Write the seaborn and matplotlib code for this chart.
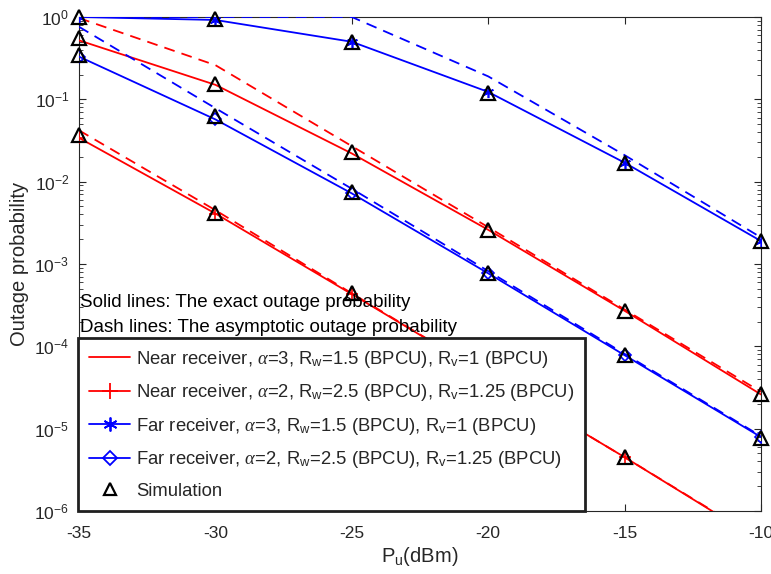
import numpy as np
import pandas as pd
import matplotlib
matplotlib.use('Agg')
import matplotlib.pyplot as plt
import seaborn as sns
from matplotlib.lines import Line2D

# =========================
# Data
# =========================
pu_dbm = [-35, -30, -25, -20, -15, -10]

# exact outage probability
near_a3_exact = [0.52, 0.150, 0.022, 0.0026, 2.7e-4, 2.6e-5]
near_a2_exact = [0.034, 0.0041, 4.3e-4, 4.4e-5, 4.5e-6, 4.3e-7]
far_a3_exact = [1.0, 0.92, 0.50, 0.123, 0.017, 0.0019]
far_a2_exact = [0.33, 0.057, 0.0072, 7.7e-4, 7.8e-5, 7.9e-6]

# asymptotic outage probability
near_a3_asym = [0.97, 0.26, 0.027, 0.0028, 2.8e-4, 2.8e-5]
near_a2_asym = [0.042, 0.0045, 4.4e-4, 4.4e-5, 4.5e-6, 4.4e-7]
far_a3_asym = [1.0, 1.0, 1.0, 0.19, 0.021, 0.0021]
far_a2_asym = [0.76, 0.078, 0.0082, 8.2e-4, 8.1e-5, 8.1e-6]

# simulation points
sim_x = [-35, -30, -25, -20, -15, -10,
         -35, -30, -25, -20, -15,
         -35, -30, -25, -20, -15, -10,
         -35, -30, -25, -20, -15, -10]
sim_y = [0.55, 0.155, 0.023, 0.0026, 2.7e-4, 2.6e-5,
         0.037, 0.0042, 4.4e-4, 4.5e-5, 4.5e-6,
         1.0, 0.95, 0.50, 0.12, 0.017, 0.0019,
         0.35, 0.062, 0.0075, 7.7e-4, 7.8e-5, 7.6e-6]

labels = [
    r'Near receiver, $\alpha$=3, R$_{\rm w}$=1.5 (BPCU), R$_{\rm v}$=1 (BPCU)',
    r'Near receiver, $\alpha$=2, R$_{\rm w}$=2.5 (BPCU), R$_{\rm v}$=1.25 (BPCU)',
    r'Far receiver, $\alpha$=3, R$_{\rm w}$=1.5 (BPCU), R$_{\rm v}$=1 (BPCU)',
    r'Far receiver, $\alpha$=2, R$_{\rm w}$=2.5 (BPCU), R$_{\rm v}$=1.25 (BPCU)',
    'Simulation',
]

# =========================
# Style
# =========================
sns.set_style('ticks')
plt.rcParams['font.family'] = ['Liberation Sans', 'DejaVu Sans']
plt.rcParams['mathtext.fontset'] = 'custom'
plt.rcParams['mathtext.rm'] = 'Liberation Sans'
plt.rcParams['mathtext.it'] = 'Liberation Serif:italic'
plt.rcParams['axes.unicode_minus'] = False
plt.rcParams['xtick.direction'] = 'in'
plt.rcParams['ytick.direction'] = 'in'

axis_grey = '#262626'
asterisk = (6, 2, 0)

fig = plt.figure(figsize=(7.71, 5.74), dpi=100)
ax = fig.add_axes([0.1025, 0.1098, 0.8845, 0.8606])
ax.set_yscale('log')

styles = [
    ('red', None, 'none'),
    ('red', '+', 'red'),
    ('blue', asterisk, 'blue'),
    ('blue', 'D', 'none'),
]
exact = [near_a3_exact, near_a2_exact, far_a3_exact, far_a2_exact]
asym = [near_a3_asym, near_a2_asym, far_a3_asym, far_a2_asym]

for (col, mk, mfc), ye, ya in zip(styles, exact, asym):
    sns.lineplot(x=pu_dbm, y=ya, ax=ax, color=col, linestyle=(0, (6, 4)),
                 linewidth=1.3, legend=False, zorder=3)
    sns.lineplot(x=pu_dbm, y=ye, ax=ax, color=col, linewidth=1.3,
                 marker=mk, markersize=8 if mk != 'D' else 6,
                 markerfacecolor=mfc, markeredgecolor=col,
                 markeredgewidth=1.2, legend=False, zorder=3)

sns.lineplot(x=sim_x, y=sim_y, ax=ax, linestyle='none', marker='^',
             markersize=10, markerfacecolor='none', markeredgecolor='black',
             markeredgewidth=1.6, legend=False, estimator=None,
             clip_on=False, zorder=5)

# =========================
# Axes
# =========================
ax.set_xlim(-35, -10)
ax.set_ylim(1e-6, 1)
ax.set_xticks([-35, -30, -25, -20, -15, -10])
ax.set_yticks([1e-6, 1e-5, 1e-4, 1e-3, 1e-2, 1e-1, 1])
ax.tick_params(axis='both', which='both', top=True, right=True,
               colors=axis_grey, labelsize=12.5, labelcolor=axis_grey)
ax.tick_params(which='major', length=5)
ax.tick_params(which='minor', length=3)
ax.tick_params(axis='x', pad=11)
ax.tick_params(axis='y', pad=7)
for s in ax.spines.values():
    s.set_color(axis_grey)
    s.set_linewidth(0.8)

ax.set_xlabel(r'P$_{\rm u}$(dBm)', fontsize=14.5, color=axis_grey, labelpad=3)
ax.set_ylabel('Outage probability', fontsize=14.5, color=axis_grey, labelpad=4)

ax.text(-34.95, 3.44e-4, 'Solid lines: The exact outage probability',
        fontsize=13.5, color='black', va='center')
ax.text(-34.95, 1.71e-4, 'Dash lines: The asymptotic outage probability',
        fontsize=13.5, color='black', va='center')

# =========================
# Legend
# =========================
handles = []
for (col, mk, mfc) in styles:
    handles.append(Line2D([], [], color=col, linewidth=1.3, marker=mk,
                          markersize=12 if mk == '+' else (10 if mk == asterisk else 7),
                          markerfacecolor=mfc, markeredgecolor=col,
                          markeredgewidth=1.3))
handles.append(Line2D([], [], linestyle='none', marker='^', markersize=9,
                      markerfacecolor='none', markeredgecolor='black',
                      markeredgewidth=1.6))

leg = ax.legend(handles, labels, loc='lower left',
                bbox_to_anchor=(-0.002, 0.0), borderaxespad=0,
                fontsize=13.3, frameon=True, fancybox=False,
                handlelength=2.25, handletextpad=0.3, labelspacing=0.68,
                borderpad=0.6)
leg.get_frame().set_edgecolor('#202020')
leg.get_frame().set_linewidth(2.0)
leg.get_frame().set_alpha(1)
leg.set_zorder(10)

plt.savefig('out.png', dpi=100)
